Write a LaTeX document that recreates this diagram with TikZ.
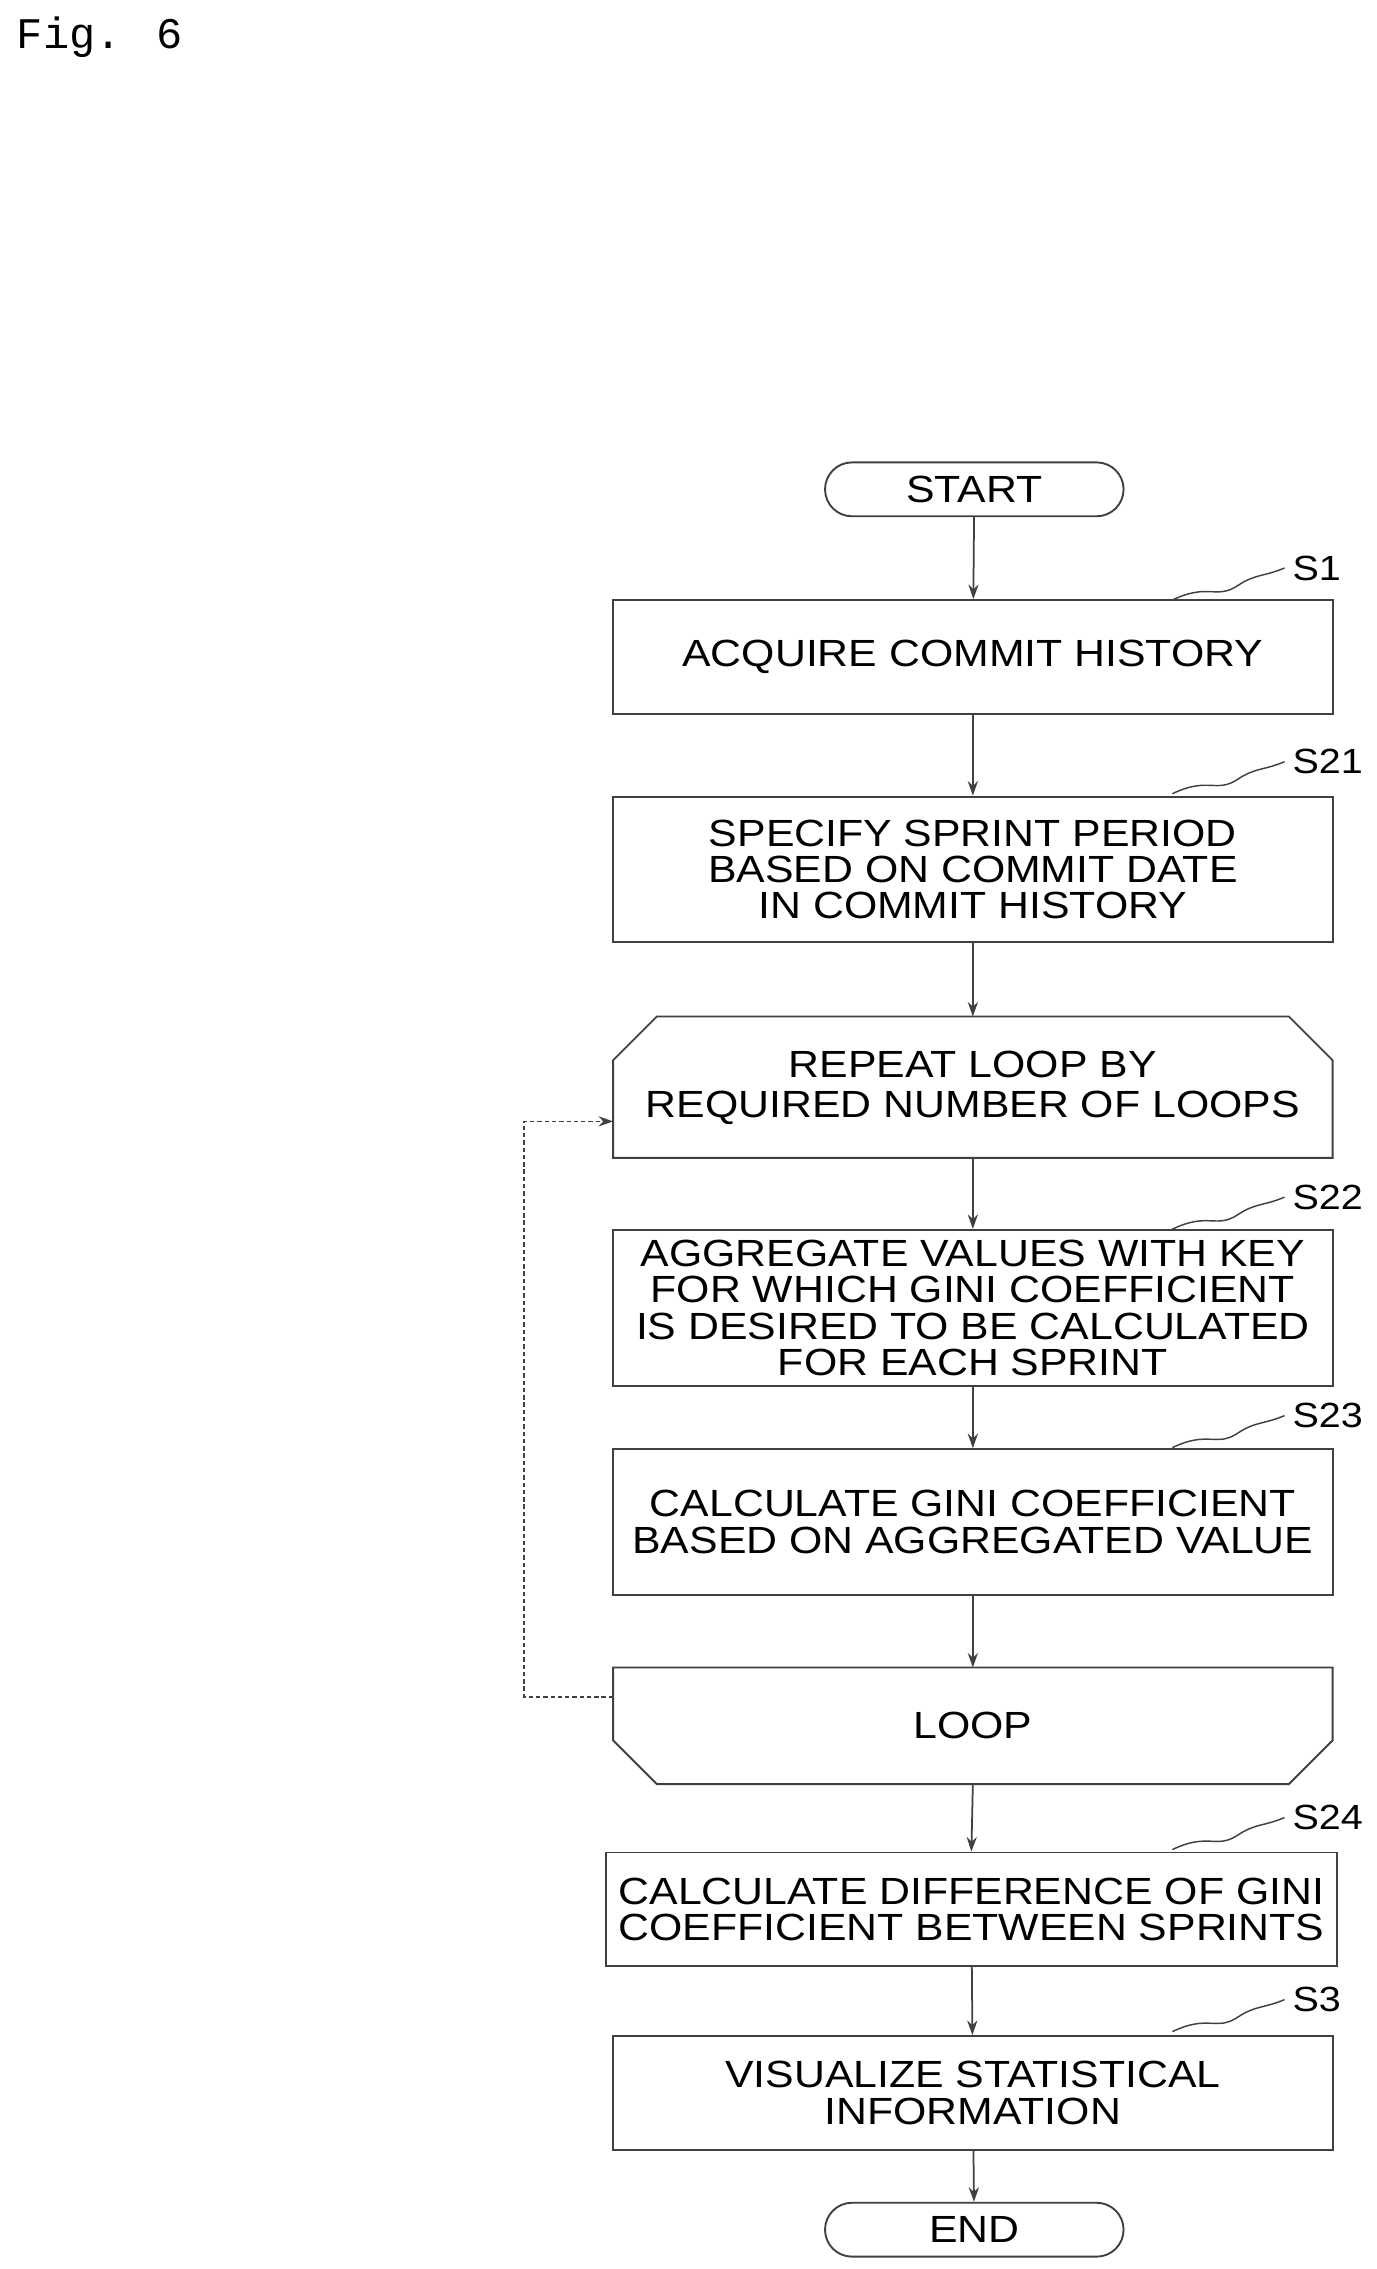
\documentclass[tikz,border=0pt]{standalone}
\usepackage{fontspec}
\setmainfont{Liberation Sans}[FakeStretch=1.13]
\newfontfamily\monof{Liberation Mono}
\usetikzlibrary{arrows.meta,shapes.misc}
\begin{document}
\begin{tikzpicture}[x=1pt,y=-1pt,
  box/.style={draw=black!75,line width=1.3pt,minimum width=494pt,align=center,font=\fontsize{26}{25}\selectfont,inner sep=0pt},
  term/.style={draw=black!75,line width=1.3pt,rounded rectangle,minimum width=205pt,minimum height=37pt,font=\fontsize{26}{25}\selectfont,inner sep=0pt},
  arr/.style={draw=black!75,line width=1.2pt,-{Stealth[length=10pt,width=7pt]}},
  lab/.style={font=\fontsize{24}{24}\selectfont,anchor=west},
  sq/.style={draw=black!75,line width=1pt}]
\useasboundingbox (0,0) rectangle (945,1558);
\node[anchor=north west,font=\monof\fontsize{30}{30}\selectfont] (fig) at (8,8) {Fig. 6};
\node[term] (start) at (669,336) {START};
\node[box,minimum height=78pt] (s1) at (668,451) {ACQUIRE COMMIT HISTORY};
\node[box,minimum height=100pt] (s21) at (668,597) {SPECIFY SPRINT PERIOD\\BASED ON COMMIT DATE\\IN COMMIT HISTORY};
\draw[draw=black!75,line width=1.3pt] (421,795) -- (421,728) -- (451,698) -- (885,698) -- (915,728) -- (915,795) -- cycle;
\node[font=\fontsize{26}{27}\selectfont,align=center] (lst) at (668,747) {REPEAT LOOP BY\\REQUIRED NUMBER OF LOOPS};
\node[box,minimum height=107pt] (s22) at (668,898) {AGGREGATE VALUES WITH KEY\\FOR WHICH GINI COEFFICIENT\\IS DESIRED TO BE CALCULATED\\FOR EACH SPRINT};
\node[box,minimum height=100pt] (s23) at (668,1045) {CALCULATE GINI COEFFICIENT\\BASED ON AGGREGATED VALUE};
\draw[draw=black!75,line width=1.3pt] (421,1145) -- (421,1195) -- (451,1225) -- (885,1225) -- (915,1195) -- (915,1145) -- cycle;
\node[font=\fontsize{26}{25}\selectfont] (le) at (668,1185) {LOOP};
\node[box,minimum width=502pt,minimum height=78pt] (s24) at (667,1311) {CALCULATE DIFFERENCE OF GINI\\COEFFICIENT BETWEEN SPRINTS};
\node[box,minimum height=78pt] (s3) at (668,1437) {VISUALIZE STATISTICAL\\INFORMATION};
\node[term] (end) at (669,1531) {END};
\draw[arr] (start) -- (s1);
\draw[arr] (s1) -- (s21);
\draw[arr] (s21.south) -- (668,698);
\draw[arr] (668,795) -- (s22.north);
\draw[arr] (s22) -- (s23);
\draw[arr] (s23.south) -- (668,1145);
\draw[arr] (668,1225) -- (s24.north);
\draw[arr] (s24) -- (s3);
\draw[arr] (s3) -- (end);
\draw[arr,dashed,dash pattern=on 3pt off 2pt] (421,1165) -- (360,1165) -- (360,770) -- (421,770);
\foreach \n/\t/\y in {a/S1/390,b/S21/523,c/S22/822,d/S23/972,e/S24/1248,f/S3/1373}{
  \draw[sq] (805,\y+22) .. controls (830,\y+10) and (835,\y+22) .. (850,\y+12) .. controls (862,\y+4) and (868,\y+6) .. (882,\y);
  \node[lab] (l\n) at (884,\y) {\t};
}
\end{tikzpicture}
\end{document}
